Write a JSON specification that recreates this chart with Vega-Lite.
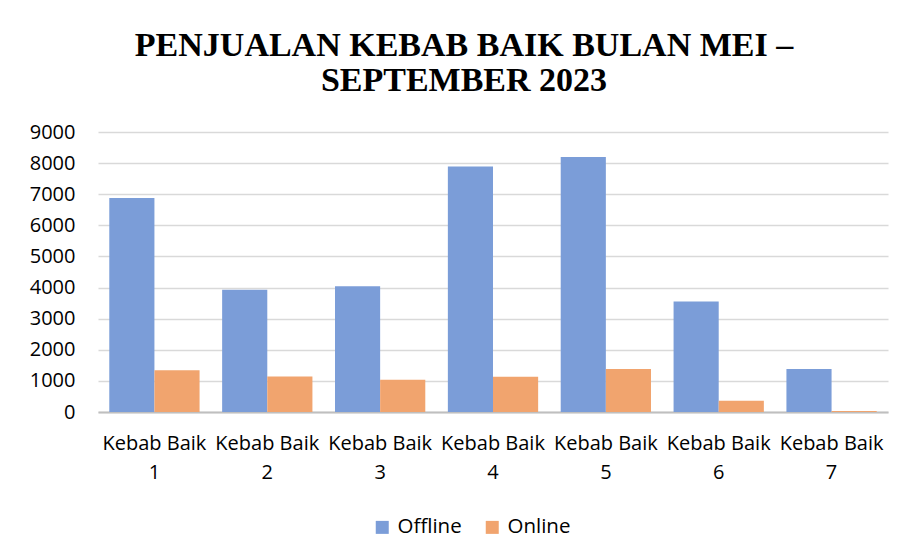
{
  "$schema": "https://vega.github.io/schema/vega-lite/v6.json",
  "width": 790,
  "height": 280,
  "autosize": {"type": "none"},
  "padding": {"left": 98, "top": 132, "right": 18, "bottom": 148},
  "background": "white",
  "title": {
    "text": ["PENJUALAN KEBAB BAIK BULAN MEI –", "SEPTEMBER 2023"],
    "font": "Liberation Serif",
    "fontSize": 34,
    "fontWeight": "bold",
    "lineHeight": 35,
    "color": "#000000",
    "anchor": "middle",
    "dx": -29,
    "offset": 24
  },
  "data": {
    "values": [
      {"toko": "Kebab Baik 1", "jenis": "Offline", "penjualan": 6880},
      {"toko": "Kebab Baik 1", "jenis": "Online", "penjualan": 1340},
      {"toko": "Kebab Baik 2", "jenis": "Offline", "penjualan": 3930},
      {"toko": "Kebab Baik 2", "jenis": "Online", "penjualan": 1145},
      {"toko": "Kebab Baik 3", "jenis": "Offline", "penjualan": 4040},
      {"toko": "Kebab Baik 3", "jenis": "Online", "penjualan": 1040},
      {"toko": "Kebab Baik 4", "jenis": "Offline", "penjualan": 7890},
      {"toko": "Kebab Baik 4", "jenis": "Online", "penjualan": 1135},
      {"toko": "Kebab Baik 5", "jenis": "Offline", "penjualan": 8200},
      {"toko": "Kebab Baik 5", "jenis": "Online", "penjualan": 1385},
      {"toko": "Kebab Baik 6", "jenis": "Offline", "penjualan": 3550},
      {"toko": "Kebab Baik 6", "jenis": "Online", "penjualan": 365},
      {"toko": "Kebab Baik 7", "jenis": "Offline", "penjualan": 1385},
      {"toko": "Kebab Baik 7", "jenis": "Online", "penjualan": 30}
    ]
  },
  "mark": {"type": "bar"},
  "encoding": {
    "x": {
      "field": "toko",
      "type": "nominal",
      "sort": null,
      "title": null,
      "scale": {"paddingInner": 0.2, "paddingOuter": 0.1},
      "axis": {
        "labelAngle": 0,
        "labelExpr": "['Kebab Baik', substring(datum.label, 11)]",
        "labelFont": "Open Sans",
        "labelFontSize": 20,
        "labelColor": "#000000",
        "labelLineHeight": 29,
        "labelPadding": 21,
        "ticks": false,
        "domainColor": "#BFBFBF",
        "domainWidth": 2,
        "grid": false
      }
    },
    "xOffset": {"field": "jenis", "type": "nominal", "scale": {"paddingInner": 0}},
    "y": {
      "field": "penjualan",
      "type": "quantitative",
      "title": null,
      "scale": {"domain": [0, 9000], "nice": false},
      "axis": {
        "values": [0, 1000, 2000, 3000, 4000, 5000, 6000, 7000, 8000, 9000],
        "format": "d",
        "labelFont": "Open Sans",
        "labelFontSize": 20,
        "labelColor": "#000000",
        "labelPadding": 23,
        "ticks": false,
        "domain": false,
        "gridColor": "#D9D9D9",
        "gridWidth": 1.5
      }
    },
    "color": {
      "field": "jenis",
      "type": "nominal",
      "title": null,
      "scale": {"domain": ["Offline", "Online"], "range": ["#7B9DD8", "#F1A46E"]},
      "legend": {
        "orient": "none",
        "direction": "horizontal",
        "legendX": 274,
        "legendY": 385,
        "symbolType": "square",
        "symbolSize": 169,
        "symbolStrokeWidth": 0,
        "labelFont": "Open Sans",
        "labelFontSize": 20.5,
        "labelColor": "#000000",
        "labelOffset": 5,
        "columnPadding": 20
      }
    }
  },
  "config": {"view": {"stroke": null}}
}
